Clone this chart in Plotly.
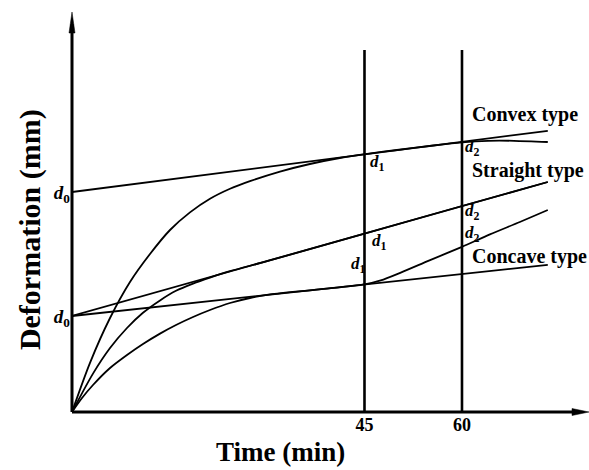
import plotly.graph_objects as go

# Reference times (min) marked by vertical lines
mark_times = [45, 60]
mark_labels = ["45", "60"]
mark_top = 9.05

# Initial deformation intercepts
d0_values = [5.5, 2.4]

# Tangent lines drawn from d0 (time, deformation)
line_t = [0, 73.2]
convex_line = [5.5, 7.03]
straight_line = [2.4, 5.75]
concave_line = [2.4, 3.68]

# Deformation curves
convex_t = [0, 2.77, 5.85, 8.92, 12.0, 15.08, 18.15, 21.23, 24.31, 27.38, 32.0,
            36.6, 41.2, 45.7, 50, 55, 60, 64, 68, 73.2]
convex_d = [0, 1.23, 2.35, 3.25, 3.95, 4.55, 4.99, 5.33, 5.58, 5.77, 6.01,
            6.2, 6.35, 6.46, 6.55, 6.65, 6.74, 6.78, 6.78, 6.75]

straight_t = [0, 3.23, 5.85, 8.46, 10.92, 13.54, 16.0, 18.62, 21.23, 24.31, 30, 45, 60, 73.2]
straight_d = [0, 0.96, 1.6, 2.1, 2.48, 2.79, 3.03, 3.21, 3.36, 3.52, 3.77, 4.46, 5.15, 5.75]

concave_t = [0, 1.54, 3.23, 5.85, 8.46, 10.92, 13.54, 16.0, 18.62, 21.23, 24.31, 27.38,
             30.46, 38, 45, 47.5, 50.5, 55, 60, 64.3, 68.9, 73.2]
concave_d = [0, 0.35, 0.675, 1.1, 1.425, 1.7, 1.96, 2.175, 2.375, 2.55, 2.725, 2.85,
             2.94, 3.065, 3.19, 3.29, 3.48, 3.79, 4.13, 4.44, 4.75, 5.05]

FONT = "Liberation Serif"
BLACK = "black"

fig = go.Figure()

for ys in (convex_line, straight_line, concave_line):
    fig.add_trace(go.Scatter(x=line_t, y=ys, mode="lines",
                             line=dict(color=BLACK, width=1.8),
                             cliponaxis=False, hoverinfo="skip"))

for ts, ds in ((convex_t, convex_d), (straight_t, straight_d), (concave_t, concave_d)):
    fig.add_trace(go.Scatter(x=ts, y=ds, mode="lines",
                             line=dict(color=BLACK, width=1.8, shape="spline", smoothing=0.8),
                             cliponaxis=False, hoverinfo="skip"))

# Vertical marker lines at 45 and 60 min
for tv in mark_times:
    fig.add_trace(go.Scatter(x=[tv, tv], y=[0, mark_top], mode="lines",
                             line=dict(color=BLACK, width=2.6),
                             cliponaxis=False, hoverinfo="skip"))

shapes = [
    # axes with arrowheads
    dict(type="line", xref="paper", yref="paper", x0=0, y0=0, x1=0, y1=0.97,
         line=dict(color=BLACK, width=3)),
    dict(type="line", xref="paper", yref="paper", x0=0, y0=0, x1=0.98, y1=0,
         line=dict(color=BLACK, width=3)),
    dict(type="path", xref="paper", yref="paper", xsizemode="pixel", ysizemode="pixel",
         xanchor=0, yanchor=1, path="M0,0 L-3,-21 L3,-21 Z",
         fillcolor=BLACK, line=dict(color=BLACK, width=0.5)),
    dict(type="path", xref="paper", yref="paper", xsizemode="pixel", ysizemode="pixel",
         xanchor=1, yanchor=0, path="M0,0 L-17,3.5 L-17,-3.5 Z",
         fillcolor=BLACK, line=dict(color=BLACK, width=0.5)),
]

def dlabel(sub):
    return "<i>d</i><sub>%s</sub>" % sub

annotations = [
    # type labels
    dict(x=61.2, y=7.45, text="Convex type", xanchor="left", yanchor="middle"),
    dict(x=61.2, y=6.05, text="Straight type", xanchor="left", yanchor="middle"),
    dict(x=61.2, y=3.9, text="Concave type", xanchor="left", yanchor="middle"),
]
for a in annotations:
    a.update(xref="x", yref="y", showarrow=False,
             font=dict(family=FONT, size=20, color=BLACK, weight="bold"))

dlabels = [
    (45.6, 6.22, "1", "left"),
    (45.8, 4.24, "1", "left"),
    (45.5, 3.68, "1", "right"),
    (60.1, 6.6, "2", "left"),
    (60.1, 5.0, "2", "left"),
    (60.1, 4.46, "2", "left"),
]
for x, y, s, xa in dlabels:
    annotations.append(dict(x=x, y=y, xref="x", yref="y", text=dlabel(s), showarrow=False,
                            xanchor=xa, yanchor="middle",
                            font=dict(family=FONT, size=17, color=BLACK, weight="bold")))

annotations.append(dict(x=0.404, y=-0.1, xref="paper", yref="paper", text="Time (min)",
                        showarrow=False, xanchor="center", yanchor="middle",
                        font=dict(family=FONT, size=27, color=BLACK, weight="bold")))
annotations.append(dict(x=-0.081, y=0.455, xref="paper", yref="paper", text="Deformation (mm)",
                        showarrow=False, xanchor="center", yanchor="middle", textangle=-90,
                        font=dict(family=FONT, size=30, color=BLACK, weight="bold")))

fig.update_layout(
    width=589, height=470,
    margin=dict(l=72, r=0, t=12, b=58),
    paper_bgcolor="white", plot_bgcolor="white",
    showlegend=False,
    shapes=shapes,
    annotations=annotations,
    xaxis=dict(range=[0, 79.54], showgrid=False, zeroline=False, showline=False,
               tickvals=mark_times, ticktext=mark_labels, ticks="",
               tickfont=dict(family=FONT, size=18, color=BLACK, weight="bold")),
    yaxis=dict(range=[0, 10], showgrid=False, zeroline=False, showline=False,
               tickvals=d0_values, ticktext=[dlabel("0"), dlabel("0")], ticks="",
               ticklabelstandoff=1,
               tickfont=dict(family=FONT, size=19, color=BLACK, weight="bold")),
)

fig.write_html("out.html")
